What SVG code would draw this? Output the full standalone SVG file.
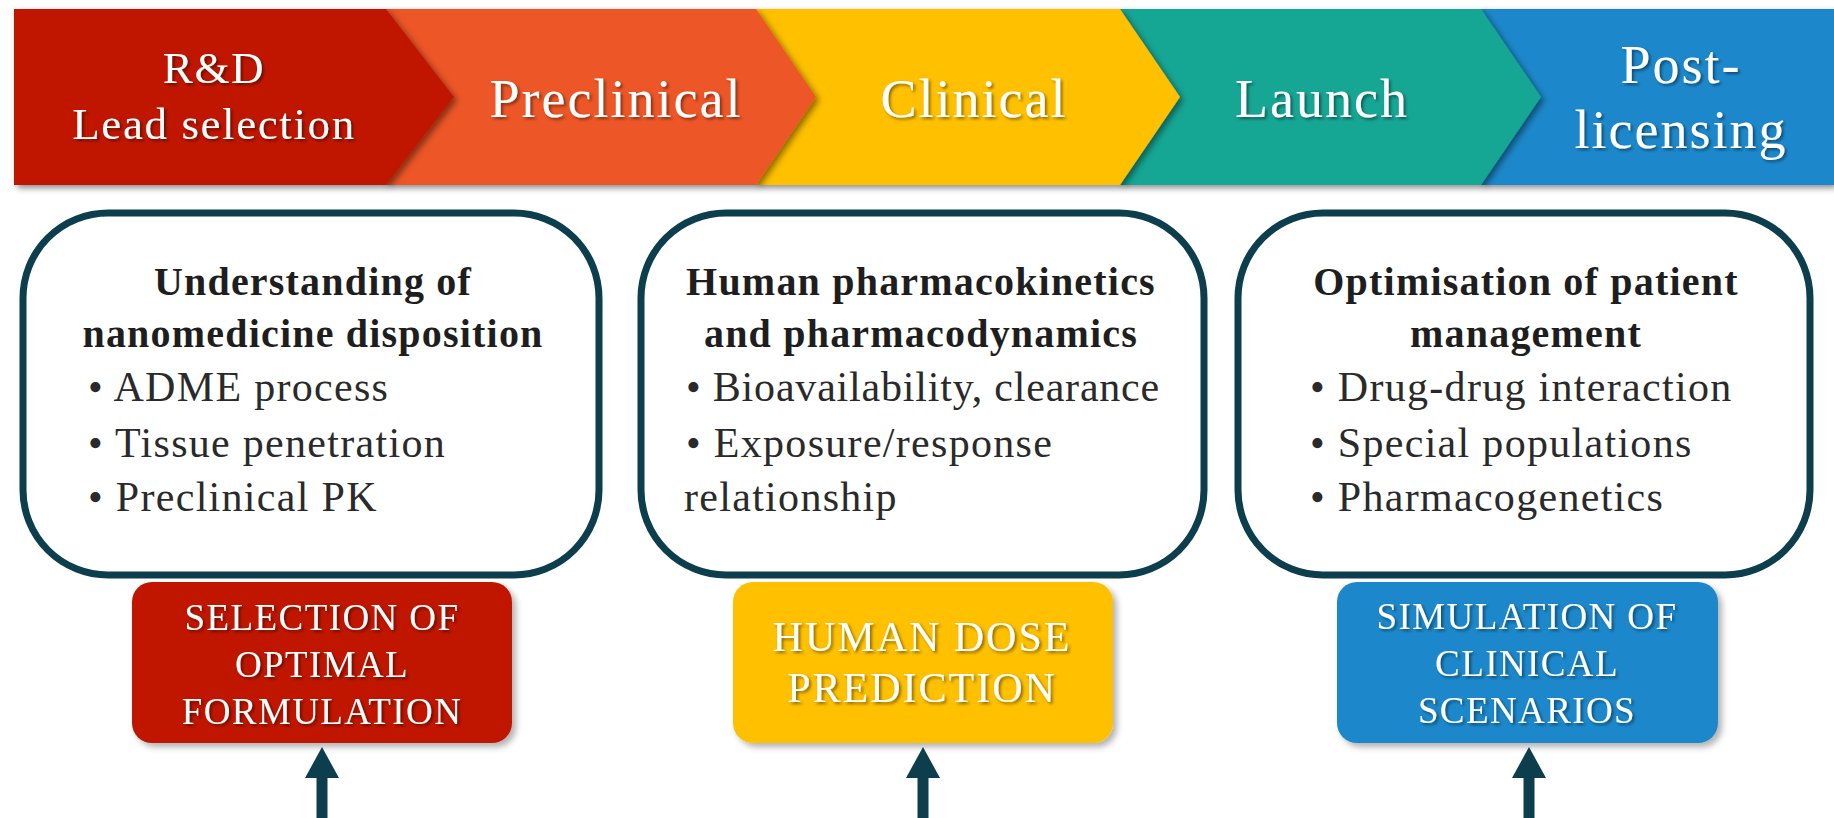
<svg xmlns="http://www.w3.org/2000/svg" width="1834" height="818" viewBox="0 0 1834 818">
  <defs>
    <filter id="chevShadow" x="-5%" y="-10%" width="115%" height="130%">
      <feDropShadow dx="3" dy="3" stdDeviation="3" flood-color="#000" flood-opacity="0.45"/>
    </filter>
    <filter id="txtShadow" x="-5%" y="-20%" width="110%" height="150%">
      <feDropShadow dx="2" dy="2" stdDeviation="1.5" flood-color="#000" flood-opacity="0.45"/>
    </filter>
    <filter id="boxShadow" x="-5%" y="-10%" width="115%" height="130%">
      <feDropShadow dx="4" dy="4" stdDeviation="3" flood-color="#000" flood-opacity="0.3"/>
    </filter>
    <style>
      .stage { font-family: "Liberation Serif", "DejaVu Serif", serif; fill: #fff; text-anchor: middle; font-size: 54px; letter-spacing: 2px; }
      .stage-sm { font-size: 45px; letter-spacing: 1.6px; }
      .panel { fill: #fff; stroke: #0d3e4e; stroke-width: 7; }
      .title { font-family: "Liberation Serif", "DejaVu Serif", serif; font-weight: bold; font-size: 40px; fill: #1e1e1e; text-anchor: middle; letter-spacing: 1.2px; }
      .item { font-family: "Liberation Serif", "DejaVu Serif", serif; font-size: 42px; fill: #2a2a2a; letter-spacing: 1.3px; }
      .item-tight { letter-spacing: 0.8px; }
      .out { font-family: "Liberation Serif", "DejaVu Serif", serif; font-size: 37px; fill: #fff; text-anchor: middle; letter-spacing: 1.4px; }
      .out-lg { font-size: 42px; letter-spacing: 2px; }
      .conn { stroke: #0d3e4e; stroke-width: 11; fill: none; }
      .head { fill: #0d3e4e; }
    </style>
  </defs>

  <rect width="1834" height="818" fill="#fff"/>

  <!-- stage banner, drawn right to left so each tip overlaps the next stage -->
  <g id="stage-postlicensing">
    <path d="M1481,9 L1834,9 L1834,185 L1481,185 Z" fill="#1e88cb" filter="url(#chevShadow)"/>
    <g filter="url(#txtShadow)">
      <text class="stage" x="1681" y="83">Post-</text>
      <text class="stage" x="1681" y="148">licensing</text>
    </g>
  </g>
  <g id="stage-launch">
    <path d="M1120,9 L1481,9 L1541,97 L1481,185 L1120,185 Z" fill="#17a694" filter="url(#chevShadow)"/>
    <text class="stage" x="1322" y="117" filter="url(#txtShadow)">Launch</text>
  </g>
  <g id="stage-clinical">
    <path d="M756,9 L1120,9 L1180,97 L1120,185 L756,185 Z" fill="#ffc000" filter="url(#chevShadow)"/>
    <text class="stage" x="974" y="117" filter="url(#txtShadow)">Clinical</text>
  </g>
  <g id="stage-preclinical">
    <path d="M386,9 L756,9 L816,97 L756,185 L386,185 Z" fill="#ed5627" filter="url(#chevShadow)"/>
    <text class="stage" x="616" y="117" filter="url(#txtShadow)">Preclinical</text>
  </g>
  <g id="stage-rd">
    <path d="M14,9 L386,9 L454,97 L386,185 L14,185 Z" fill="#c01800" filter="url(#chevShadow)"/>
    <g filter="url(#txtShadow)">
      <text class="stage stage-sm" x="214" y="83">R&amp;D</text>
      <text class="stage stage-sm" x="214" y="139">Lead selection</text>
    </g>
  </g>

  <!-- objective panels -->
  <g id="panel-disposition">
    <rect class="panel" x="23" y="213" width="576" height="362" rx="85"/>
    <text class="title" x="313" y="295">Understanding of</text>
    <text class="title" x="313" y="347">nanomedicine disposition</text>
    <text class="item" x="88" y="401">• ADME process</text>
    <text class="item" x="88" y="457">• Tissue penetration</text>
    <text class="item" x="88" y="511">• Preclinical PK</text>
  </g>
  <g id="panel-pkpd">
    <rect class="panel" x="641" y="213" width="563" height="362" rx="85"/>
    <text class="title" x="921" y="295">Human pharmacokinetics</text>
    <text class="title" x="921" y="347">and pharmacodynamics</text>
    <text class="item item-tight" x="686" y="401">• Bioavailability, clearance</text>
    <text class="item" x="686" y="457">• Exposure/response</text>
    <text class="item" x="684" y="511">relationship</text>
  </g>
  <g id="panel-patient">
    <rect class="panel" x="1238" y="213" width="572" height="362" rx="85"/>
    <text class="title" x="1526" y="295">Optimisation of patient</text>
    <text class="title" x="1526" y="347">management</text>
    <text class="item" x="1310" y="401">• Drug-drug interaction</text>
    <text class="item" x="1310" y="457">• Special populations</text>
    <text class="item" x="1310" y="511">• Pharmacogenetics</text>
  </g>

  <!-- model outputs -->
  <g id="out-formulation">
    <rect x="132" y="582" width="380" height="161" rx="20" fill="#c01800" filter="url(#boxShadow)"/>
    <g filter="url(#txtShadow)">
      <text class="out" x="322" y="630">SELECTION OF</text>
      <text class="out" x="322" y="677">OPTIMAL</text>
      <text class="out" x="322" y="724">FORMULATION</text>
    </g>
  </g>
  <g id="out-dose">
    <rect x="733" y="582" width="380" height="161" rx="20" fill="#ffc000" filter="url(#boxShadow)"/>
    <g filter="url(#txtShadow)">
      <text class="out out-lg" x="922" y="651">HUMAN DOSE</text>
      <text class="out out-lg" x="922" y="702">PREDICTION</text>
    </g>
  </g>
  <g id="out-scenarios">
    <rect x="1337" y="582" width="381" height="161" rx="20" fill="#1e88cb" filter="url(#boxShadow)"/>
    <g filter="url(#txtShadow)">
      <text class="out" x="1527" y="629">SIMULATION OF</text>
      <text class="out" x="1527" y="676">CLINICAL</text>
      <text class="out" x="1527" y="723">SCENARIOS</text>
    </g>
  </g>

  <!-- upward connectors into the output boxes -->
  <g id="connectors">
    <line class="conn" x1="322" y1="818" x2="322" y2="774"/>
    <polygon class="head" points="322,747 305,778 339,778"/>
    <line class="conn" x1="923" y1="818" x2="923" y2="774"/>
    <polygon class="head" points="923,747 906,778 940,778"/>
    <line class="conn" x1="1529" y1="818" x2="1529" y2="774"/>
    <polygon class="head" points="1529,747 1512,778 1546,778"/>
  </g>
</svg>
